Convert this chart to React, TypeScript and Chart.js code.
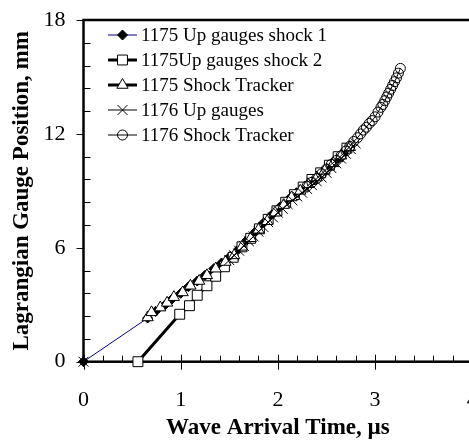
import React, { useEffect, useRef } from 'react';
import { Chart, registerables } from 'chart.js';

Chart.register(...registerables);

const seriesNames = [
  '1175 Up gauges shock 1',
  '1175Up gauges shock 2',
  '1175 Shock Tracker',
  '1176 Up gauges',
  '1176 Shock Tracker',
];

const xTickValues = [0, 1, 2, 3, 4];
const yTickValues = [0, 6, 12, 18];

// 1175 Up gauges shock 1
const shock1X = [0, 0.66, 0.74, 0.83, 0.91, 1.0, 1.08, 1.17, 1.25, 1.34, 1.42, 1.51, 1.6, 1.68, 1.77, 1.85, 1.94, 2.02, 2.11, 2.19, 2.28, 2.36, 2.45, 2.53, 2.62, 2.7];
const shock1Y = [0, 2.3, 2.65, 2.95, 3.3, 3.6, 3.95, 4.25, 4.55, 4.9, 5.2, 5.55, 5.95, 6.4, 6.85, 7.3, 7.75, 8.15, 8.55, 8.9, 9.25, 9.6, 9.95, 10.3, 10.7, 11.1];

// 1175Up gauges shock 2
const shock2X = [0.56, 0.99, 1.09, 1.17, 1.27, 1.36, 1.45, 1.54, 1.63, 1.72, 1.81, 1.9, 1.99, 2.08, 2.17, 2.26, 2.35, 2.44, 2.53, 2.62, 2.71];
const shock2Y = [0, 2.5, 2.95, 3.5, 4.0, 4.5, 5.0, 5.5, 6.05, 6.5, 7.0, 7.5, 7.95, 8.4, 8.8, 9.2, 9.6, 9.95, 10.35, 10.8, 11.25];

// 1175 Shock Tracker
const tracker1175X = [0.66, 0.7, 0.79, 0.86, 0.93, 1.02, 1.1, 1.19, 1.27, 1.36, 1.46, 1.55, 1.63, 1.72, 1.8, 1.89, 1.97, 2.06, 2.14, 2.23, 2.31, 2.4, 2.48, 2.57, 2.65, 2.74];
const tracker1175Y = [2.33, 2.6, 2.85, 3.1, 3.4, 3.65, 4.0, 4.25, 4.55, 4.9, 5.25, 5.6, 6.05, 6.5, 6.95, 7.4, 7.85, 8.25, 8.65, 9.0, 9.35, 9.7, 10.05, 10.45, 10.85, 11.3];

// 1176 Up gauges (null = no reading, breaks the line)
const up1176X = [0, 0.75, 1.5, 1.55, 1.6, 1.65, 1.7, 1.75, 1.8, 1.85, 1.9, 1.95, 2.0, 2.05, 2.1, 2.15, 2.2, 2.25, 2.3, 2.35, 2.4, 2.45, 2.5, 2.55, 2.6, 2.65, 2.7, 2.75, 2.8];
const up1176Y = [0, null, 5.35, 5.6, 5.85, 6.1, 6.35, 6.6, 6.85, 7.1, 7.35, 7.6, 7.85, 8.05, 8.3, 8.5, 8.7, 8.9, 9.1, 9.3, 9.5, 9.7, 9.95, 10.2, 10.45, 10.7, 10.95, 11.2, 11.5];

// 1176 Shock Tracker
const tracker1176X = [2.3, 2.35, 2.4, 2.45, 2.5, 2.55, 2.6, 2.65, 2.7, 2.74, 2.78, 2.82, 2.85, 2.88, 2.91, 2.94, 2.97, 3.0, 3.03, 3.06, 3.08, 3.1, 3.12, 3.14, 3.16, 3.18, 3.2, 3.22, 3.24, 3.26];
const tracker1176Y = [9.25, 9.45, 9.65, 9.9, 10.15, 10.4, 10.6, 10.85, 11.1, 11.35, 11.6, 11.8, 12.0, 12.2, 12.35, 12.55, 12.7, 12.9, 13.15, 13.4, 13.55, 13.75, 13.95, 14.15, 14.35, 14.55, 14.75, 14.95, 15.2, 15.45];

const FONT = "'Liberation Serif', 'Times New Roman', serif";

const pts = (xs: number[], ys: (number | null)[]) => xs.map((x, i) => ({ x, y: ys[i] }));

type Style = {
  lineColor: string;
  lineWidth: number;
  pointStyle: string;
  radius: number;
  fill: string;
};

const styles: Style[] = [
  { lineColor: '#000080', lineWidth: 1, pointStyle: 'rectRot', radius: 5, fill: '#000000' },
  { lineColor: '#000000', lineWidth: 3, pointStyle: 'rect', radius: 7, fill: '#ffffff' },
  { lineColor: '#000000', lineWidth: 3, pointStyle: 'triangle', radius: 6.5, fill: '#ffffff' },
  { lineColor: '#000000', lineWidth: 1, pointStyle: 'crossRot', radius: 7, fill: '#ffffff' },
  { lineColor: '#000000', lineWidth: 1, pointStyle: 'circle', radius: 5, fill: 'rgba(0,0,0,0)' },
];

function drawMarker(ctx: CanvasRenderingContext2D, s: Style, x: number, y: number) {
  ctx.save();
  ctx.lineWidth = 1;
  ctx.strokeStyle = '#000';
  ctx.fillStyle = s.fill;
  ctx.beginPath();
  const r = s.radius;
  if (s.pointStyle === 'rectRot') {
    ctx.moveTo(x, y - r);
    ctx.lineTo(x + r, y);
    ctx.lineTo(x, y + r);
    ctx.lineTo(x - r, y);
    ctx.closePath();
    ctx.fill();
    ctx.stroke();
  } else if (s.pointStyle === 'rect') {
    const h = r * Math.SQRT1_2;
    ctx.rect(x - h, y - h, 2 * h, 2 * h);
    ctx.fill();
    ctx.stroke();
  } else if (s.pointStyle === 'triangle') {
    ctx.moveTo(x, y - r);
    ctx.lineTo(x + r * Math.cos(Math.PI / 6), y + r / 2);
    ctx.lineTo(x - r * Math.cos(Math.PI / 6), y + r / 2);
    ctx.closePath();
    ctx.fill();
    ctx.stroke();
  } else if (s.pointStyle === 'crossRot') {
    const h = r * Math.SQRT1_2;
    ctx.moveTo(x - h, y - h);
    ctx.lineTo(x + h, y + h);
    ctx.moveTo(x - h, y + h);
    ctx.lineTo(x + h, y - h);
    ctx.stroke();
  } else {
    ctx.arc(x, y, r, 0, Math.PI * 2);
    ctx.fill();
    ctx.stroke();
  }
  ctx.restore();
}

const framePlugin = {
  id: 'frameTicks',
  beforeDatasetsDraw(chart: any) {
    const { ctx, chartArea } = chart;
    const xs = chart.scales.x;
    const ys = chart.scales.y;
    const { left, right, top, bottom } = chartArea;
    ctx.save();
    ctx.strokeStyle = '#000';
    ctx.lineWidth = 1;
    for (let k = 0; k <= 20; k++) {
      const px = Math.round(xs.getPixelForValue(k * 0.2)) + 0.5;
      ctx.beginPath();
      if (k % 5 === 0) {
        ctx.moveTo(px, bottom - 7);
        ctx.lineTo(px, bottom + 8);
      } else {
        ctx.moveTo(px, bottom - 6);
        ctx.lineTo(px, bottom);
      }
      ctx.stroke();
    }
    for (let k = 0; k <= 15; k++) {
      const py = Math.round(ys.getPixelForValue(k * 1.2)) + 0.5;
      ctx.beginPath();
      if (k % 5 === 0) {
        ctx.moveTo(left - 7, py);
        ctx.lineTo(left, py);
      } else {
        ctx.moveTo(left, py);
        ctx.lineTo(left + 7, py);
      }
      ctx.stroke();
    }
    ctx.lineWidth = 2.5;
    ctx.strokeRect(left, top, right - left, bottom - top);
    ctx.restore();
  },
  afterDraw(chart: any) {
    const { ctx } = chart;
    ctx.save();
    ctx.font = `19px ${FONT}`;
    ctx.textBaseline = 'middle';
    ctx.textAlign = 'left';
    ctx.fillStyle = '#000';
    seriesNames.forEach((name, i) => {
      const s = styles[i];
      const y = 35 + i * 25;
      ctx.beginPath();
      ctx.strokeStyle = s.lineColor;
      ctx.lineWidth = s.lineWidth;
      ctx.moveTo(108, y);
      ctx.lineTo(137, y);
      ctx.stroke();
      drawMarker(ctx, s, 122.5, y);
      ctx.fillStyle = '#000';
      ctx.fillText(name, 141, y + 1);
    });
    ctx.restore();
  },
};

export default function App() {
  const ref = useRef<HTMLCanvasElement | null>(null);
  useEffect(() => {
    if (!ref.current) return;
    const seriesData = [
      pts(shock1X, shock1Y),
      pts(shock2X, shock2Y),
      pts(tracker1175X, tracker1175Y),
      pts(up1176X, up1176Y),
      pts(tracker1176X, tracker1176Y),
    ];
    const orders = [4, 3, 2, 1, 0];
    const chart = new Chart(ref.current, {
      type: 'scatter',
      data: {
        datasets: seriesData.map((d, i) => ({
          label: seriesNames[i],
          data: d,
          showLine: true,
          spanGaps: false,
          tension: 0,
          borderColor: styles[i].lineColor,
          borderWidth: styles[i].lineWidth,
          pointStyle: styles[i].pointStyle as any,
          pointRadius: styles[i].radius,
          pointBackgroundColor: styles[i].fill,
          pointBorderColor: '#000',
          pointBorderWidth: 1,
          clip: false as any,
          order: orders[i],
        })),
      },
      options: {
        animation: false,
        responsive: false,
        events: [],
        layout: { padding: { top: 20, right: 27.7, left: 0, bottom: 0 } },
        plugins: { legend: { display: false }, tooltip: { enabled: false } },
        scales: {
          x: {
            type: 'linear',
            min: 0,
            max: 4,
            afterFit: (s: any) => { s.height = 86.3; s.paddingLeft = 0; s.paddingRight = 0; },
            afterBuildTicks: (s: any) => { s.ticks = xTickValues.map((v) => ({ value: v })); },
            grid: { display: false, drawTicks: false },
            border: { display: false },
            ticks: { color: '#000', font: { family: FONT, size: 22 }, padding: 25, maxRotation: 0, autoSkip: false },
            title: { display: true, text: 'Wave Arrival Time, µs', color: '#000', font: { family: FONT, size: 23, weight: 'bold' }, padding: { top: 0, bottom: 6 } },
          },
          y: {
            type: 'linear',
            min: 0,
            max: 18,
            afterFit: (s: any) => { s.width = 83.5; s.paddingTop = 0; s.paddingBottom = 0; },
            afterBuildTicks: (s: any) => { s.ticks = yTickValues.map((v) => ({ value: v })); },
            grid: { display: false, drawTicks: false },
            border: { display: false },
            ticks: { color: '#000', font: { family: FONT, size: 22 }, padding: 18, autoSkip: false },
            title: { display: true, text: 'Lagrangian Gauge Position, mm', color: '#000', font: { family: FONT, size: 23, weight: 'bold' }, padding: { top: 8, bottom: 0 } },
          },
        },
      } as any,
      plugins: [framePlugin],
    });
    return () => chart.destroy();
  }, []);
  return (
    <div style={{ position: 'fixed', left: 0, top: 0, width: 469, height: 448, overflow: 'hidden', background: '#fff' }}>
      <canvas ref={ref} width={500} height={448} style={{ width: 500, height: 448, display: 'block' }} />
    </div>
  );
}
